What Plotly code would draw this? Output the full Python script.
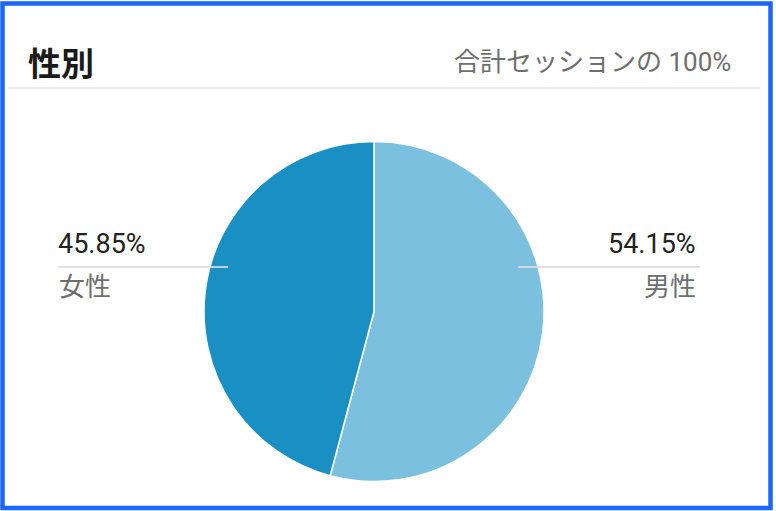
import plotly.graph_objects as go

W, H = 776, 511

labels = ["男性", "女性"]
values = [54.15, 45.85]
colors = ["#7bc0de", "#1a8fc4"]
pct_text = ["54.15%", "45.85%"]

title = "性別"
subtitle = "合計セッションの 100%"

FONT = "Roboto, 'Noto Sans CJK JP', sans-serif"


def px(x):
    return x / W


def py(y):
    return 1 - y / H


pie = go.Pie(
    labels=labels,
    values=values,
    sort=False,
    direction="clockwise",
    rotation=0,
    marker=dict(colors=colors, line=dict(color="white", width=1.5)),
    textinfo="none",
    hoverinfo="label+percent",
    showlegend=False,
    domain=dict(x=[px(204), px(544)], y=[py(482), py(141)]),
)

fig = go.Figure(data=[pie])

shapes = [
    # header divider
    dict(type="line", xref="paper", yref="paper", x0=px(8), x1=px(760),
         y0=py(88), y1=py(88), line=dict(color="#ececec", width=2)),
    # label leader lines
    dict(type="line", xref="paper", yref="paper", x0=px(58), x1=px(228),
         y0=py(267), y1=py(267), line=dict(color="rgba(220,220,220,0.85)", width=2)),
    dict(type="line", xref="paper", yref="paper", x0=px(518), x1=px(700),
         y0=py(267), y1=py(267), line=dict(color="rgba(220,220,220,0.85)", width=2)),
    # outer frame
    dict(type="rect", xref="paper", yref="paper", x0=px(2.5), x1=px(770.5),
         y0=py(508), y1=py(3.5), line=dict(color="#1a66ff", width=4.5)),
]

annotations = [
    dict(text="<b>" + title + "</b>", x=px(26), y=py(64), xanchor="left", yanchor="middle",
         font=dict(size=33, color="#1a1a1a", family=FONT)),
    dict(text=subtitle, x=px(733), y=py(62), xanchor="right", yanchor="middle",
         font=dict(size=26, color="#6e6e6e", family=FONT)),
    dict(text=pct_text[1], x=px(56), y=py(244), xanchor="left", yanchor="middle",
         font=dict(size=27, color="#222222", family=FONT)),
    dict(text=labels[1], x=px(57), y=py(287), xanchor="left", yanchor="middle",
         font=dict(size=26, color="#6e6e6e", family=FONT)),
    dict(text=pct_text[0], x=px(698), y=py(244), xanchor="right", yanchor="middle",
         font=dict(size=27, color="#222222", family=FONT)),
    dict(text=labels[0], x=px(698), y=py(287), xanchor="right", yanchor="middle",
         font=dict(size=26, color="#6e6e6e", family=FONT)),
]
for a in annotations:
    a.update(xref="paper", yref="paper", showarrow=False)

fig.update_layout(
    width=W, height=H,
    margin=dict(l=0, r=0, t=0, b=0),
    paper_bgcolor="white",
    plot_bgcolor="white",
    shapes=shapes,
    annotations=annotations,
)

# the page body has a default 8px margin; drop it so the figure fills the window
fig.write_html("out.html", config={"displayModeBar": False},
               post_script="document.body.style.margin='0';")
